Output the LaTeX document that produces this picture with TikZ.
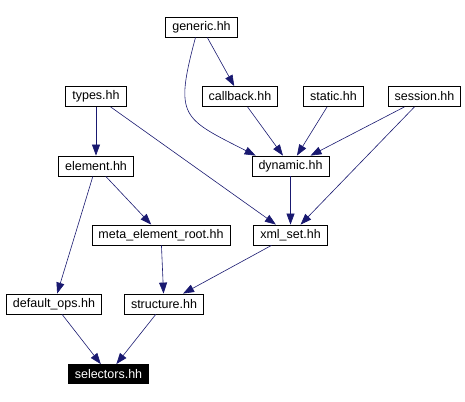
\documentclass[tikz,border=0pt]{standalone}
\usepackage{fontspec}
\setmainfont{Liberation Sans}
\usepackage{tikz}
\usetikzlibrary{positioning, arrows.meta}
\definecolor{edgeblue}{RGB}{25,25,112}

\tikzset{
	file/.style={draw, line width=0.8pt, inner xsep=6.5pt, inner ysep=0pt, minimum height=20pt, font=\fontsize{12.5}{15}\selectfont},
	self/.style={file, fill=black, text=white, minimum height=19pt},
	dep/.style={draw=edgeblue, line width=0.6pt, -{Triangle[length=11pt, width=8pt]}}
}

\begin{document}
\begin{tikzpicture}[on grid]
		\useasboundingbox (0,0) rectangle (465pt,-401pt);
		
		\node[file] (generic) at (201.5pt,-27pt) {generic.hh};
		\node[file, below right=69.5pt and 38.5pt of generic] (callback) {callback.hh};
		\node[file, left=144pt of callback] (types) {types.hh};
		\node[file, right=93.5pt of callback] (static) {static.hh};
		\node[file, right=91pt of static] (session) {session.hh};
		
		\node[file, below=69.5pt of types] (element) {element.hh};
		\node[file, right=194.5pt of element] (dynamic) {dynamic.hh};
		
		\node[file, below right=69pt and 65pt of element] (meta) {meta\_element\_root.hh};
		\node[file, below=69pt of dynamic] (xmlset) {xml\_set.hh};
		
		\node[file, below left=138pt and 42pt of element] (defops) {default\_ops.hh};
		\node[file, below right=69pt and 3pt of meta] (structure) {structure.hh};
		
		\node[self, below left=70pt and 55.5pt of structure] (selectors) {selectors.hh};
		
		\draw[dep] (generic) -- (callback);
		\draw[dep] ([xshift=-6pt]generic.south) to[out=-105, in=153, looseness=1.6] ([xshift=4pt]dynamic.north west);
		\draw[dep] (types) -- (element);
		\draw[dep] (types) -- (xmlset);
		\draw[dep] (callback) -- (dynamic);
		\draw[dep] (static) -- (dynamic);
		\draw[dep] (session) -- (dynamic);
		\draw[dep] (session) -- (xmlset);
		\draw[dep] (dynamic) -- (xmlset);
		\draw[dep] (element) -- (defops);
		\draw[dep] (element) -- (meta);
		\draw[dep] (meta) -- (structure);
		\draw[dep] (xmlset) -- (structure);
		\draw[dep] (defops) -- (selectors);
		\draw[dep] (structure) -- (selectors);
		
	\end{tikzpicture}
\end{document}
